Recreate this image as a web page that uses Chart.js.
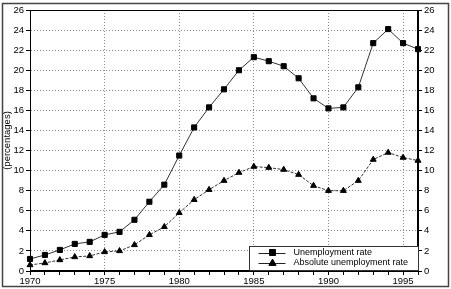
<!DOCTYPE html>
<html><head><meta charset="utf-8">
<script src="https://cdn.jsdelivr.net/npm/chart.js@4"></script>
<style>html,body{margin:0;padding:0;background:#fff}canvas{display:block}</style>
</head><body>
<canvas id="c" width="451" height="289"></canvas>
<script>
const years = [1970,1971,1972,1973,1974,1975,1976,1977,1978,1979,1980,1981,1982,1983,1984,1985,1986,1987,1988,1989,1990,1991,1992,1993,1994,1995,1996];
const unemploymentRate = [1.2,1.6,2.1,2.7,2.9,3.6,3.9,5.1,6.9,8.6,11.5,14.3,16.3,18.1,20.0,21.3,20.9,20.4,19.2,17.2,16.2,16.3,18.3,22.7,24.1,22.7,22.1];
const absoluteUnemploymentRate = [0.6,0.8,1.1,1.4,1.5,1.9,2.0,2.6,3.6,4.4,5.8,7.1,8.1,9.0,9.8,10.4,10.3,10.1,9.6,8.5,8.0,8.0,9.0,11.1,11.8,11.3,11.0];
const xTickLabels = [1970,1975,1980,1985,1990,1995];
const yTickStep = 2;
const yMin = 0, yMax = 26;
const seriesNames = ['Unemployment rate','Absolute unemployment rate'];
const yTitle = '(percentages)';

Chart.defaults.font.family = "'Liberation Sans', Arial, Helvetica, sans-serif";
Chart.defaults.font.size = 9.5;
Chart.defaults.color = '#000';

function drawMarker(ctx, style, x, y, r) {
  ctx.beginPath();
  if (style === 'rect') {
    const s = Math.SQRT1_2 * r;
    ctx.rect(x - s, y - s, 2 * s, 2 * s);
  } else {
    let rad = 0;
    ctx.moveTo(x + Math.sin(rad) * r, y - Math.cos(rad) * r);
    rad += 2 * Math.PI / 3;
    ctx.lineTo(x + Math.sin(rad) * r, y - Math.cos(rad) * r);
    rad += 2 * Math.PI / 3;
    ctx.lineTo(x + Math.sin(rad) * r, y - Math.cos(rad) * r);
    ctx.closePath();
  }
  ctx.fill();
  ctx.stroke();
}

const framePlugin = {
  id: 'frame',
  afterDraw(chart) {
    const {ctx, chartArea: a} = chart;
    ctx.save();
    // plot frame
    ctx.strokeStyle = '#000';
    ctx.lineWidth = 1;
    ctx.setLineDash([]);
    ctx.strokeRect(Math.round(a.left) + 0.5, Math.round(a.top) + 0.5, Math.round(a.right - a.left) - 1, Math.round(a.bottom - a.top) - 1);
    // legend
    const lw = 169, lh = 24;
    const lx = Math.round(a.right - lw) + 0.5, ly = Math.round(a.bottom - lh - 1.5) + 0.5;
    ctx.fillStyle = '#fff';
    ctx.fillRect(lx, ly, lw, lh);
    ctx.strokeStyle = '#333';
    ctx.strokeRect(lx, ly, lw, lh);
    const styles = ['rect', 'triangle'];
    const radii = [4.2, 4.2];
    ctx.font = "9px 'Liberation Sans', Arial, sans-serif";
    ctx.textBaseline = 'middle';
    for (let i = 0; i < 2; i++) {
      const yy = ly + 6 + i * 10;
      ctx.strokeStyle = '#222';
      ctx.lineWidth = 1;
      ctx.beginPath();
      ctx.moveTo(lx + 9, Math.round(yy) + 0.5);
      ctx.lineTo(lx + 36, Math.round(yy) + 0.5);
      ctx.stroke();
      ctx.fillStyle = '#000';
      ctx.strokeStyle = '#000';
      drawMarker(ctx, styles[i], lx + 23, yy + (i === 1 ? 0.8 : 0), radii[i]);
      ctx.fillStyle = '#000';
      ctx.fillText(seriesNames[i], lx + 44, yy);
    }
    // outer frame
    ctx.strokeStyle = '#444';
    ctx.lineWidth = 1.5;
    ctx.strokeRect(2.5, 3.5, 446, 283);
    ctx.restore();
  }
};

new Chart(document.getElementById('c'), {
  type: 'line',
  data: {
    datasets: [
      {
        label: seriesNames[0],
        data: years.map((x, i) => ({x, y: unemploymentRate[i]})),
        borderColor: '#333', borderWidth: 1, tension: 0,
        pointStyle: 'rect', pointRadius: 3.6, pointBorderWidth: 1,
        pointBackgroundColor: '#000', pointBorderColor: '#000',
        yAxisID: 'y', clip: false
      },
      {
        label: seriesNames[1],
        data: years.map((x, i) => ({x, y: absoluteUnemploymentRate[i]})),
        borderColor: '#333', borderWidth: 1, tension: 0, borderDash: [3, 1.5],
        pointStyle: 'triangle', pointRadius: 3.4, pointBorderWidth: 1,
        pointBackgroundColor: '#000', pointBorderColor: '#000',
        yAxisID: 'y', clip: false
      }
    ]
  },
  options: {
    responsive: false,
    animation: false,
    events: [],
    layout: {padding: {top: 10, left: 0, right: 0, bottom: 0}},
    plugins: {legend: {display: false}, tooltip: {enabled: false}},
    scales: {
      x: {
        type: 'linear', min: years[0], max: years[years.length - 1],
        ticks: {stepSize: 1, autoSkip: false, maxRotation: 0, padding: 1,
          callback: v => xTickLabels.includes(v) ? String(v) : ''},
        grid: {color: c => (c.tick && xTickLabels.includes(c.tick.value)) ? '#8a8a8a' : 'rgba(0,0,0,0)',
          tickColor: '#000', tickLength: 4},
        border: {color: '#000', dash: [1, 2]},
        afterFit: s => { s.height = 18; }
      },
      y: {
        position: 'left', min: yMin, max: yMax,
        ticks: {stepSize: yTickStep, padding: 2},
        grid: {color: '#8a8a8a', tickColor: '#000', tickLength: 4},
        border: {color: '#000', dash: [1, 2]},
        title: {display: true, text: yTitle, padding: {top: 2, bottom: 0}, font: {size: 9.5}},
        afterFit: s => { s.width = 30; }
      },
      y2: {
        position: 'right', min: yMin, max: yMax,
        ticks: {stepSize: yTickStep, padding: 2},
        grid: {drawOnChartArea: false, tickColor: '#000', tickLength: 4},
        border: {color: '#000'},
        afterFit: s => { s.width = 33; }
      }
    }
  },
  plugins: [framePlugin]
});
</script>
</body></html>
